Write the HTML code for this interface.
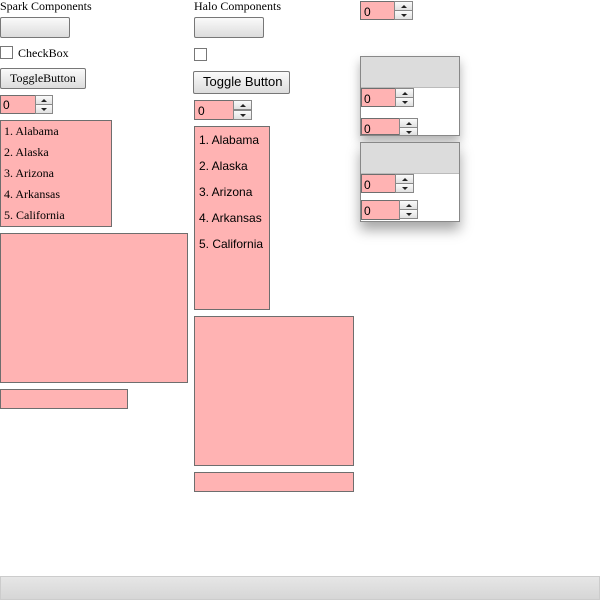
<!DOCTYPE html>
<html><head><style>
body{margin:0;width:600px;height:600px;position:relative;background:#fff;overflow:hidden;font-family:"Liberation Serif",serif;}
.a{position:absolute;box-sizing:border-box;}
.pk{background:#ffb3b3;border:1px solid #6e6e6e;}
.btn{background:linear-gradient(#fafafa,#dcdcdc);border:1px solid #777;border-radius:2px;}
.cb{background:#fff;border:1px solid #777;}
.t{position:absolute;font-size:12px;white-space:nowrap;color:#000;}
.s{font-family:"Liberation Sans","DejaVu Sans",sans-serif;}
.ar{background:linear-gradient(#fafafa,#e0e0e0);border:1px solid #888;}
.ar:before{content:"";position:absolute;left:50%;top:3px;margin-left:-3px;border:3px solid transparent;border-bottom:3px solid #222;border-top:0;}
.ar2:before{content:"";position:absolute;left:50%;top:3px;margin-left:-3px;border:3px solid transparent;border-top:3px solid #222;border-bottom:0;}
</style></head><body>

<div class="t" style="left:0;top:-1px">Spark Components</div>
<div class="a btn" style="left:0;top:17px;width:70px;height:21px"></div>
<div class="a cb" style="left:0;top:46px;width:13px;height:13px"></div>
<div class="t" style="left:18px;top:46px">CheckBox</div>
<div class="a btn" style="left:0;top:68px;width:86px;height:21px"></div>
<div class="t" style="left:10px;top:71px">ToggleButton</div>
<div class="a pk" style="left:0;top:95px;width:36px;height:19px"></div>
<div class="t s" style="left:3px;top:98px">0</div>
<div class="a ar" style="left:35px;top:95px;width:18px;height:10px"></div>
<div class="a ar ar2" style="left:35px;top:104px;width:18px;height:10px"></div>
<div class="a pk" style="left:0;top:120px;width:112px;height:107px"></div>
<div class="t" style="left:4px;top:121px;line-height:21px">1. Alabama<br>2. Alaska<br>3. Arizona<br>4. Arkansas<br>5. California</div>
<div class="a pk" style="left:0;top:233px;width:188px;height:150px"></div>
<div class="a pk" style="left:0;top:389px;width:128px;height:20px"></div>

<div class="t" style="left:194px;top:-1px">Halo Components</div>
<div class="a btn" style="left:194px;top:17px;width:70px;height:21px"></div>
<div class="a cb" style="left:194px;top:48px;width:13px;height:13px"></div>
<div class="a btn" style="left:193px;top:71px;width:97px;height:23px"></div>
<div class="t s" style="left:203px;top:74px;font-size:13px">Toggle Button</div>
<div class="a pk" style="left:194px;top:100px;width:40px;height:20px"></div>
<div class="t s" style="left:198px;top:104px">0</div>
<div class="a ar" style="left:233px;top:100px;width:19px;height:10px"></div>
<div class="a ar ar2" style="left:233px;top:110px;width:19px;height:10px"></div>
<div class="a pk" style="left:194px;top:126px;width:76px;height:184px"></div>
<div class="t s" style="left:199px;top:127px;line-height:26px;font-size:12px">1. Alabama<br>2. Alaska<br>3. Arizona<br>4. Arkansas<br>5. California</div>
<div class="a pk" style="left:194px;top:316px;width:160px;height:150px"></div>
<div class="a pk" style="left:194px;top:472px;width:160px;height:20px"></div>

<div class="a pk" style="left:360px;top:1px;width:35px;height:19px"></div>
<div class="t s" style="left:364px;top:5px">0</div>
<div class="a ar" style="left:394px;top:1px;width:19px;height:10px"></div>
<div class="a ar ar2" style="left:394px;top:10px;width:19px;height:10px"></div>

<div class="a" style="left:360px;top:56px;width:100px;height:80px;border:1px solid #888;background:#fff;box-shadow:0 6px 10px rgba(0,0,0,.3)">
 <div class="a" style="left:0;top:0;width:98px;height:31px;background:#dcdcdc;border-bottom:1px solid #bbb"></div>
</div>
<div class="a pk" style="left:361px;top:88px;width:35px;height:19px"></div>
<div class="t s" style="left:364px;top:92px">0</div>
<div class="a ar" style="left:395px;top:88px;width:19px;height:10px"></div>
<div class="a ar ar2" style="left:395px;top:97px;width:19px;height:10px"></div>
<div class="a pk" style="left:361px;top:118px;width:39px;height:17px"></div>
<div class="t s" style="left:364px;top:122px">0</div>
<div class="a ar" style="left:399px;top:118px;width:19px;height:10px"></div>
<div class="a ar ar2" style="left:399px;top:127px;width:19px;height:9px"></div>

<div class="a" style="left:360px;top:142px;width:100px;height:80px;border:1px solid #888;background:#fff;box-shadow:0 8px 12px rgba(0,0,0,.35)">
 <div class="a" style="left:0;top:0;width:98px;height:31px;background:#dcdcdc;border-bottom:1px solid #bbb"></div>
</div>
<div class="a pk" style="left:361px;top:174px;width:35px;height:19px"></div>
<div class="t s" style="left:364px;top:178px">0</div>
<div class="a ar" style="left:395px;top:174px;width:19px;height:10px"></div>
<div class="a ar ar2" style="left:395px;top:183px;width:19px;height:10px"></div>
<div class="a pk" style="left:361px;top:200px;width:39px;height:20px"></div>
<div class="t s" style="left:364px;top:204px">0</div>
<div class="a ar" style="left:399px;top:200px;width:19px;height:10px"></div>
<div class="a ar ar2" style="left:399px;top:209px;width:19px;height:10px"></div>

<div class="a" style="left:0;top:576px;width:600px;height:24px;background:linear-gradient(#e6e6e6,#d6d6d6);border:1px solid #ccc"></div>
</body></html>
